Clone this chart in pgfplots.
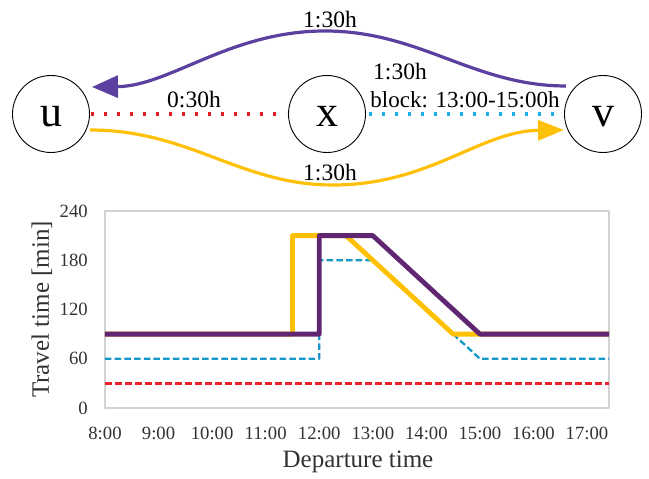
\documentclass[border=0pt]{standalone}
\usepackage{fontspec}
\setmainfont{Liberation Serif}
\usepackage{pgfplots}
\pgfplotsset{compat=1.18}
\usetikzlibrary{arrows.meta}
\definecolor{ppurple}{RGB}{96,38,114}
\definecolor{pyellow}{RGB}{255,192,0}
\definecolor{pblue}{RGB}{21,151,200}
\definecolor{pred}{RGB}{232,35,42}
\definecolor{dpurple}{RGB}{92,64,160}
\definecolor{dyellow}{RGB}{255,192,10}
\definecolor{dred}{RGB}{228,30,38}
\definecolor{dblue}{RGB}{30,174,230}
\definecolor{boxgray}{RGB}{210,210,210}
\definecolor{tickgray}{RGB}{50,50,50}
\begin{document}
\begin{tikzpicture}
\path[use as bounding box] (0,0) rectangle (649pt,479pt);
\begin{scope}[x=1pt,y=-1pt,yshift=479pt]
  % edges
  \draw[dred,line width=3.2pt,dash pattern=on 3.2pt off 9.8pt] (91,114) -- (286,114);
  \draw[dblue,line width=3.2pt,dash pattern=on 3.2pt off 9.8pt] (369,114) -- (563,114);
  \draw[dpurple,line width=3.2pt,-{Triangle[length=26pt,width=22pt]}]
    (566,86) .. controls (474,86) and (420,31) .. (325,31)
             .. controls (230,31) and (170,86) .. (92,87);
  \draw[dyellow,line width=3.2pt,-{Triangle[length=26pt,width=20pt]}]
    (90,130) .. controls (190,130) and (240,185) .. (333,185)
             .. controls (430,185) and (480,131) .. (564,130);
  % nodes
  \draw[black,line width=0.9pt] (51,114) circle (38.5);
  \draw[black,line width=0.9pt] (327,114) circle (38.5);
  \draw[black,line width=0.9pt] (603,114) circle (38.5);
  \node[anchor=base,inner sep=0pt,font=\fontsize{44}{48}\selectfont] at (51,127) {u};
  \node[anchor=base,inner sep=0pt,font=\fontsize{44}{48}\selectfont] at (327,127) {x};
  \node[anchor=base,inner sep=0pt,font=\fontsize{44}{48}\selectfont] at (603,127) {v};
  % labels
  \node[inner sep=0pt,font=\fontsize{23.5}{26}\selectfont] at (330,20) {1:30h};
  \node[inner sep=0pt,font=\fontsize{23.5}{26}\selectfont] at (400,72) {1:30h};
  \node[inner sep=0pt,font=\fontsize{23.5}{26}\selectfont] at (194,100) {0:30h};
  \node[inner sep=0pt,font=\fontsize{23}{26}\selectfont] at (465,100) {block: 13:00-15:00h};
  \node[inner sep=0pt,font=\fontsize{23.5}{26}\selectfont] at (330,173) {1:30h};
\end{scope}
\begin{axis}[
  at={(105pt,71pt)}, anchor=south west,
  width=504pt, height=197pt, scale only axis,
  xmin=8, xmax=17.41, ymin=0, ymax=240,
  xtick={8,9,10,11,12,13,14,15,16,17},
  xticklabels={8:00,9:00,10:00,11:00,12:00,13:00,14:00,15:00,16:00,17:00},
  ytick={0,60,120,180,240},
  major tick length=0pt,
  axis line style={boxgray,line width=1.2pt},
  /pgf/number format/assume math mode=true,
  tick label style={font=\fontsize{18.7}{20}\selectfont, text=tickgray, inner sep=0pt},
  xticklabel style={anchor=north, yshift=-18.7pt},
  yticklabel style={anchor=east, xshift=-17pt},
  xlabel={Departure time},
  ylabel={Travel time [min]},
  label style={font=\fontsize{25}{28}\selectfont, text=tickgray, inner sep=0pt},
  xlabel style={at={(axis description cs:0.502,-0.274)}, anchor=center},
  ylabel style={at={(axis description cs:-0.125,0.5)}, anchor=center, rotate=0},
  line join=round,
]
\addplot[pred, line width=2.5pt, dash pattern=on 7pt off 3pt] coordinates {(8,30) (17.41,30)};
\addplot[pblue, line width=2.3pt, dash pattern=on 6.5pt off 3.2pt] coordinates {(8,60) (12,60) (12,180) (13,180) (15,60) (17.41,60)};
\addplot[pyellow, line width=4.8pt] coordinates {(8,90) (11.5,90) (11.5,210) (12.5,210) (14.5,90) (17.41,90)};
\addplot[ppurple, line width=4.8pt] coordinates {(8,90) (12,90) (12,210) (13,210) (15,90) (17.41,90)};
\end{axis}
\end{tikzpicture}
\end{document}
